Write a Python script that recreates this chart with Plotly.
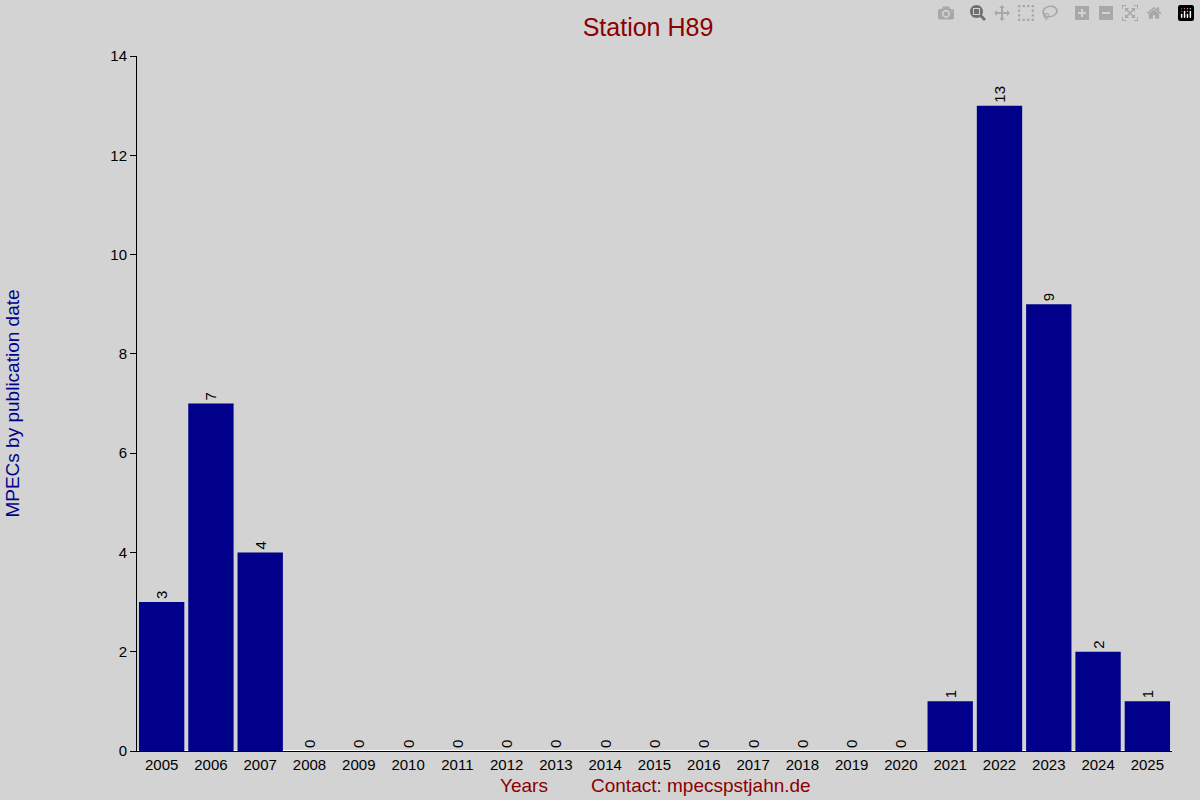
import plotly.graph_objects as go

years = [str(y) for y in range(2005, 2026)]
counts = [3, 7, 4, 0, 0, 0, 0, 0, 0, 0, 0, 0, 0, 0, 0, 0, 1, 13, 9, 2, 1]

fig = go.Figure(go.Bar(
    x=years, y=counts,
    marker_color="#00008b", marker_line_width=0,
    text=[str(c) for c in counts], textposition="outside", textangle=-90,
    textfont=dict(size=15, color="black"), cliponaxis=False,
))

fig.update_layout(
    width=1200, height=800,
    paper_bgcolor="#d3d3d3", plot_bgcolor="#d3d3d3",
    font=dict(family="Liberation Sans, Arial", size=15, color="black"),
    title=dict(text="Station H89", x=0.54, y=0.977, xanchor="center",
               font=dict(size=25, color="#8b0000")),
    margin=dict(l=126, r=28, t=56, b=49),
    bargap=0.08, showlegend=False,
    xaxis=dict(showline=True, linecolor="black", ticks="", showgrid=False),
    yaxis=dict(range=[0, 14], dtick=2, showline=True, linecolor="black",
               ticks="outside", ticklen=6, tickcolor="black", showgrid=False,
               title=dict(text="MPECs by publication date", standoff=85,
                          font=dict(size=19, color="#00008b"))),
    annotations=[
        dict(text="Years", x=0.374, y=-0.032, xref="paper", yref="paper",
             xanchor="center", yanchor="top", showarrow=False,
             font=dict(size=19, color="#8b0000")),
        dict(text="Contact: mpecspstjahn.de", x=0.545, y=-0.032, xref="paper", yref="paper",
             xanchor="center", yanchor="top", showarrow=False,
             font=dict(size=19, color="#8b0000")),
    ],
)
fig.write_html("out.html", post_script="document.body.style.margin='0';window.dispatchEvent(new Event('resize'));")
